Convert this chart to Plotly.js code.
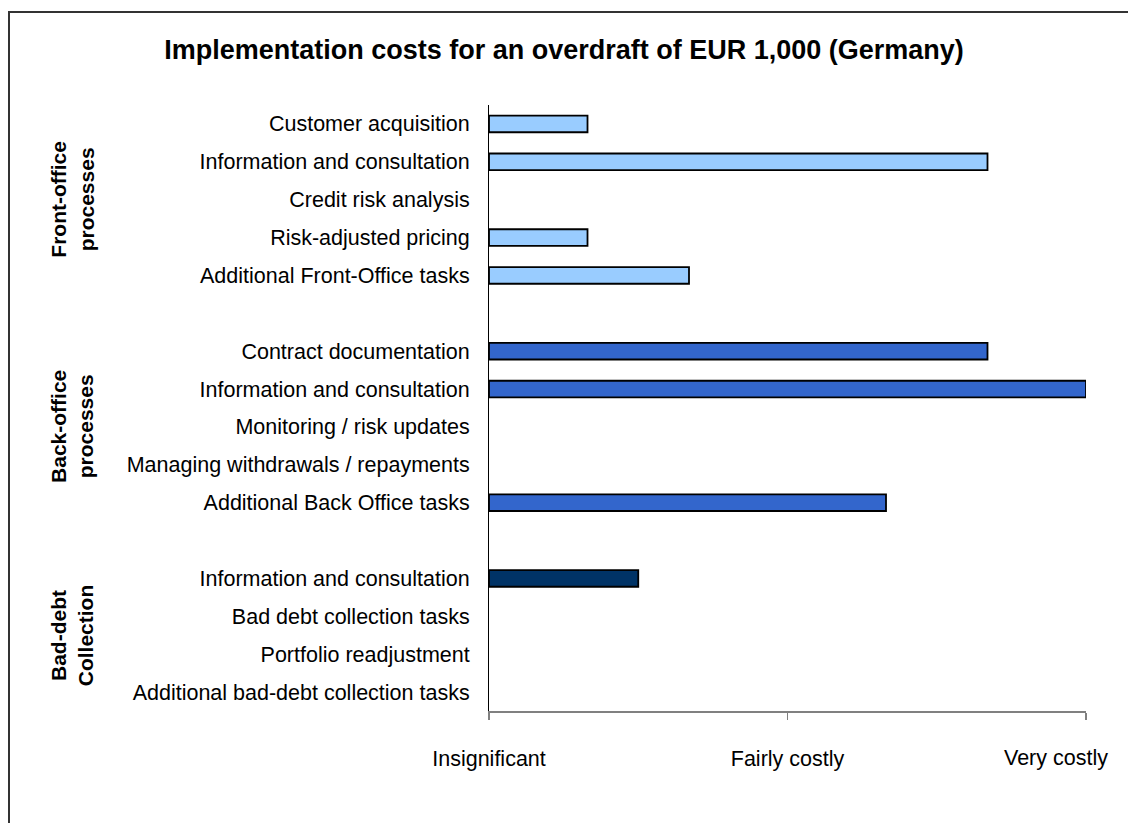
<!DOCTYPE html>
<html>
<head>
<meta charset="utf-8">
<script src="https://cdn.plot.ly/plotly-3.0.1.min.js"></script>
<style>
  html, body { margin: 0; padding: 0; background: #fff; overflow: hidden; }
  #chart { width: 1128px; height: 823px; position: relative; }
  #frame { position: absolute; left: 8px; top: 11px; width: 3000px; height: 3000px;
           border-left: 2px solid #333; border-top: 2px solid #333; pointer-events: none; }
</style>
</head>
<body>
<div id="chart"></div>
<div id="frame"></div>
<script>
// ---- data ----
const frontLabels = ['Customer acquisition', 'Information and consultation', 'Credit risk analysis', 'Risk-adjusted pricing', 'Additional Front-Office tasks'];
const frontValues = [0.33, 1.67, 0, 0.33, 0.67];
const backLabels = ['Contract documentation', 'Information and consultation', 'Monitoring / risk updates', 'Managing withdrawals / repayments', 'Additional Back Office tasks'];
const backValues = [1.67, 2.0, 0, 0, 1.33];
const badDebtLabels = ['Information and consultation', 'Bad debt collection tasks', 'Portfolio readjustment', 'Additional bad-debt collection tasks'];
const badDebtValues = [0.5, 0, 0, 0];
const groupLabels = ['Front-office<br>processes', 'Back-office<br>processes', 'Bad-debt<br>Collection'];
const xTickValues = [0, 1, 2];
const xTickLabels = ['Insignificant', 'Fairly costly', 'Very costly'];
const chartTitle = 'Implementation costs for an overdraft of EUR 1,000 (Germany)';

// ---- styling ----
const FONT = 'Liberation Sans, Arial, sans-serif';
const W = 1128, H = 823;
const M = { l: 489, r: 42, t: 105, b: 112 };
const plotW = W - M.l - M.r, plotH = H - M.t - M.b;
const px2x = px => (px - M.l) / plotW;
const py2y = py => (H - M.b - py) / plotH;

const groups = [
  { labels: frontLabels, values: frontValues, color: '#99CCFF' },
  { labels: backLabels, values: backValues, color: '#3366CC' },
  { labels: badDebtLabels, values: badDebtValues, color: '#003366' }
];

let offset = 0;
let lastRow = 0;
const traces = [];
const tickvals = [], ticktext = [];
const groupCenters = [];
groups.forEach(g => {
  const ys = g.labels.map((_, i) => i + offset);
  ys.forEach((y, i) => { tickvals.push(y); ticktext.push(g.labels[i]); });
  groupCenters.push((ys[0] + ys[ys.length - 1]) / 2);
  lastRow = ys[ys.length - 1];
  traces.push({
    type: 'bar', orientation: 'h',
    x: g.values, y: ys, width: 0.44,
    marker: { color: g.color, line: { color: '#000', width: g.values.map(v => v > 0 ? 1.8 : 0) } },
    hoverinfo: 'skip', showlegend: false
  });
  offset += g.labels.length + 1;
});

const annotations = groupLabels.map((t, i) => ({
  text: t, textangle: -90, showarrow: false,
  xref: 'paper', x: px2x(72), xanchor: 'center',
  yref: 'y', y: groupCenters[i], yanchor: 'middle',
  font: { family: FONT, size: 21, color: '#000', weight: 'bold' },
  align: 'center'
}));
annotations.push({
  text: xTickLabels[2], showarrow: false,
  xref: 'x', x: xTickValues[2], xanchor: 'right', xshift: 24,
  yref: 'paper', y: py2y(758), yanchor: 'middle',
  font: { family: FONT, size: 21.5, color: '#000' }
});

const layout = {
  width: W, height: H,
  margin: M,
  paper_bgcolor: '#fff', plot_bgcolor: '#fff',
  font: { family: FONT, size: 21.5, color: '#000' },
  title: {
    text: '<b>' + chartTitle + '</b>',
    font: { family: FONT, size: 27, color: '#000' },
    xref: 'container', x: 0.5, xanchor: 'center',
    yref: 'container', y: 1 - 50 / H, yanchor: 'middle'
  },
  xaxis: {
    range: [0, 2], fixedrange: true,
    tickvals: xTickValues, ticktext: [xTickLabels[0], xTickLabels[1], ''],
    showgrid: false, zeroline: false,
    showline: true, linecolor: '#808080', linewidth: 2,
    ticks: 'outside', ticklen: 7, tickcolor: '#808080', tickwidth: 1.5,
    ticklabelstandoff: 20,
    tickfont: { family: FONT, size: 21.5, color: '#000' }
  },
  yaxis: {
    range: [lastRow + 0.5, -0.5], fixedrange: true,
    tickvals: tickvals, ticktext: ticktext,
    showgrid: false, zeroline: false,
    showline: true, linecolor: '#000', linewidth: 1,
    ticks: '', ticklabelstandoff: 14,
    tickfont: { family: FONT, size: 21.5, color: '#000' }
  },
  annotations: annotations
};

Plotly.newPlot('chart', traces, layout, { staticPlot: true, displayModeBar: false });
</script>
</body>
</html>
